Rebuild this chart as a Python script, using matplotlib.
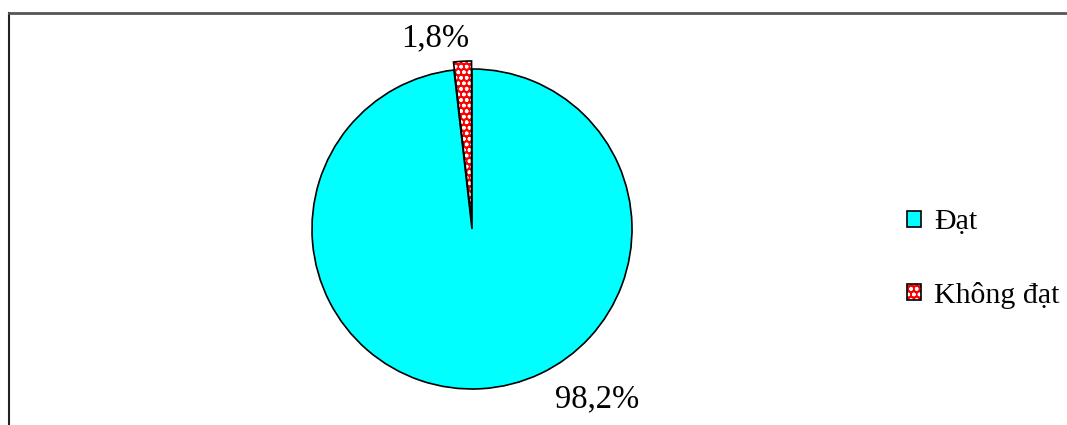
import matplotlib.pyplot as plt
from matplotlib.patches import Rectangle
from matplotlib.legend_handler import HandlerTuple

labels = ["Đạt", "Không đạt"]
shares = [98.2, 1.8]
colors = ["#00FFFF", "#FF0000"]

plt.rcParams['font.family'] = ['Liberation Serif', 'DejaVu Serif']

W, H = 1067, 425
fig = plt.figure(figsize=(W / 100, H / 100), dpi=100, facecolor='white')

# square axes centred on the pie, radius 162 px
cx, cy, R, half = 472, 229, 162, 200
ax = fig.add_axes([(cx - half) / W, (H - cy - half) / H, 2 * half / W, 2 * half / H])
lim = half / R
ax.set_xlim(-lim, lim)
ax.set_ylim(-lim, lim)
ax.axis('off')

explode = [0, 0.05]
# fill + white hatch first, then black outlines on top
fills, _ = ax.pie(shares, colors=colors, startangle=90, counterclock=False,
                  explode=explode, wedgeprops=dict(linewidth=0))
fills[1].set_hatch('ooo')
fills[1].set_edgecolor('white')
outlines, _ = ax.pie(shares, colors=['none', 'none'], startangle=90,
                     counterclock=False, explode=explode,
                     wedgeprops=dict(linewidth=1.2, edgecolor='black'))
for p in fills + outlines:
    p.set_clip_on(False)

ax.text(-0.23, 1.195, f"{shares[1]:.1f}%".replace('.', ','), fontsize=23.5,
        ha='center', va='center')
ax.text(0.78, -1.065, f"{shares[0]:.1f}%".replace('.', ','), fontsize=23.5,
        ha='center', va='center')

# legend with square swatches
h_ok = Rectangle((0, 0), 1, 1, facecolor=colors[0], edgecolor='black', lw=1.2)
h_bad_fill = Rectangle((0, 0), 1, 1, facecolor=colors[1], edgecolor='white',
                       lw=0, hatch='ooo')
h_bad_edge = Rectangle((0, 0), 1, 1, facecolor='none', edgecolor='black', lw=1.2)
fig.legend([h_ok, (h_bad_fill, h_bad_edge)], labels,
           handler_map={tuple: HandlerTuple(ndivide=1, pad=0)},
           loc='center left', bbox_to_anchor=(907 / W, 1 - 259 / H),
           frameon=False, fontsize=21.5, handlelength=0.47, handleheight=0.47,
           handletextpad=0.43, labelspacing=1.55, borderpad=0, borderaxespad=0)

# frame lines along the left and top
fig.add_artist(plt.Line2D([9 / W, 9 / W], [0, 1 - 13 / H], color='#222222',
                          lw=1.5, transform=fig.transFigure))
fig.add_artist(plt.Line2D([9 / W, 1], [1 - 13 / H, 1 - 13 / H], color='#555555',
                          lw=2, transform=fig.transFigure))

fig.savefig('out.png', dpi=100, facecolor='white')
